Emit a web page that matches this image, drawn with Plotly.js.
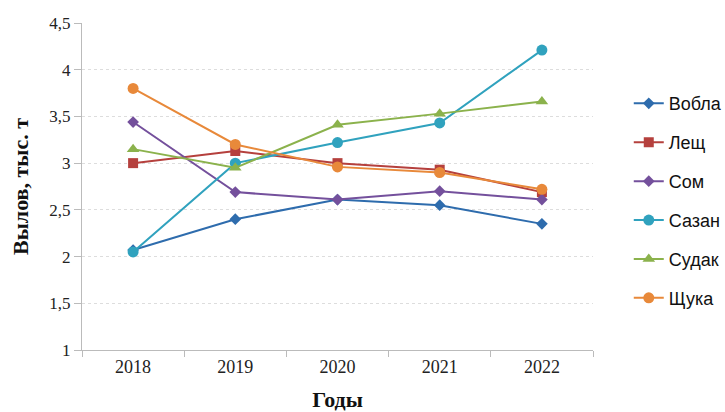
<!DOCTYPE html>
<html><head><meta charset="utf-8">
<script src="https://cdn.plot.ly/plotly-3.0.1.min.js"></script>
<style>body{margin:0;background:#fff}#c{width:725px;height:412px}</style>
</head><body><div id="c"></div>
<script>
const years = ['2018','2019','2020','2021','2022'];
const names = ['Вобла','Лещ','Сом','Сазан','Судак','Щука'];
const vobla = [2.07, 2.40, 2.61, 2.55, 2.35];
const leshch = [3.00, 3.13, 3.00, 2.93, 2.69];
const som = [3.44, 2.69, 2.61, 2.70, 2.61];
const sazan = [2.05, 3.00, 3.22, 3.43, 4.21];
const sudak = [3.15, 2.95, 3.41, 3.53, 3.66];
const shchuka = [3.80, 3.20, 2.96, 2.90, 2.72];
const yTickVals = [1, 1.5, 2, 2.5, 3, 3.5, 4, 4.5];
const yTickText = ['1','1,5','2','2,5','3','3,5','4','4,5'];

const series = [vobla, leshch, som, sazan, sudak, shchuka];
const colors = ['#2E6CAD','#B5403D','#74509C','#30A2BE','#8BB24C','#E8893A'];
const symbols = ['diamond','square','diamond','circle','triangle-up','circle'];
const sizes = [9, 10, 9, 11, 11, 11];

const traces = series.map((s, i) => ({
  x: years, y: s, name: names[i], type: 'scatter', mode: 'lines+markers',
  legendgroup: 'g' + i,
  line: {color: colors[i], width: 2},
  marker: {symbol: symbols[i], size: sizes[i], color: colors[i]}
}));

const serif = 'Liberation Serif, Times New Roman, serif';
const layout = {
  width: 725, height: 412,
  margin: {l: 82, r: 132, t: 23, b: 62, autoexpand: false},
  paper_bgcolor: '#fff', plot_bgcolor: '#fff',
  showlegend: true,
  legend: {x: 1.07, y: 0.81, xanchor: 'left', yanchor: 'top',
    font: {family: 'Liberation Sans, Arial, sans-serif', size: 18, color: '#111'},
    traceorder: 'grouped', tracegroupgap: 12.5, itemwidth: 30},
  xaxis: {
    type: 'category', range: [-0.5, 4.5], tickson: 'boundaries',
    ticks: 'outside', ticklen: 6, tickcolor: '#bbb',
    showline: true, linecolor: '#bbb', linewidth: 1, showgrid: false, zeroline: false,
    tickfont: {family: serif, size: 18, color: '#222'},
    title: {text: 'Годы', font: {family: serif, size: 22, color: '#111', weight: 'bold'}, standoff: 18}
  },
  yaxis: {
    range: [1, 4.5], tickvals: yTickVals, ticktext: yTickText,
    ticks: 'outside', ticklen: 7, tickcolor: '#bbb',
    showline: true, linecolor: '#bbb', linewidth: 1,
    showgrid: true, gridcolor: '#ddd', griddash: 'dot', gridwidth: 1, zeroline: false,
    tickfont: {family: serif, size: 17, color: '#222'},
    title: {text: 'Вылов, тыс. т', font: {family: serif, size: 22, color: '#111', weight: 'bold'}, standoff: 14}
  }
};
Plotly.newPlot('c', traces, layout, {displayModeBar: false, staticPlot: true});
</script></body></html>
